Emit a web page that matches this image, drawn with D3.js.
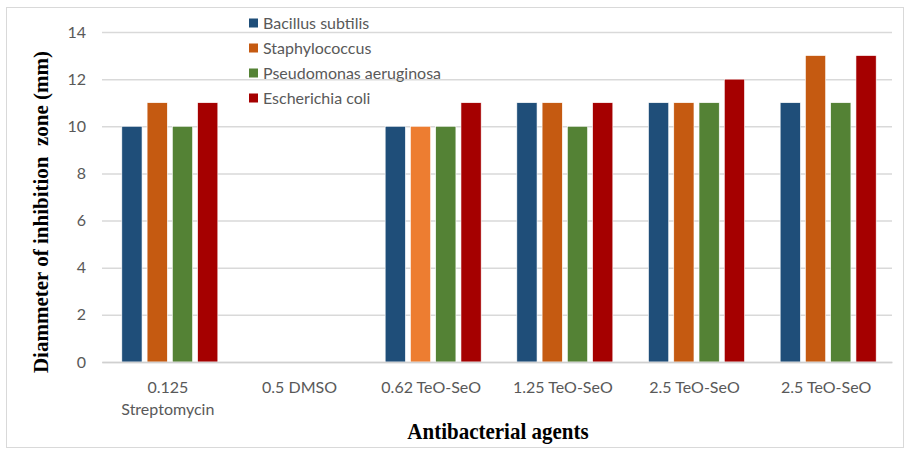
<!DOCTYPE html>
<html><head><meta charset="utf-8">
<script src="https://cdn.jsdelivr.net/npm/d3@7"></script>
<style>body{margin:0;background:#fff}svg{display:block}</style>
</head><body><svg id="c" width="908" height="452"></svg>
<script>
const categories = [["0.125","Streptomycin"],["0.5 DMSO"],["0.62 TeO-SeO"],["1.25 TeO-SeO"],["2.5 TeO-SeO"],["2.5 TeO-SeO"]];
const seriesNames = ["Bacillus subtilis","Staphylococcus","Pseudomonas aeruginosa","Escherichia coli"];
const bacillus = [10,0,10,11,11,11];
const staph = [11,0,10,11,11,13];
const pseudo = [10,0,10,10,11,11];
const ecoli = [11,0,11,11,12,13];
const yTicks = [0,2,4,6,8,10,12,14];
const colors = ["#1F4E79","#C55A11","#548235","#A50000"];
// style override: one bar in the reference is drawn in a lighter orange
const colorOverride = {"1-2":"#ED7D31"};

const values = [bacillus, staph, pseudo, ecoli];
const svg = d3.select("#c");
svg.append("rect").attr("x",6.5).attr("y",7.5).attr("width",897).attr("height",440)
  .attr("fill","#fff").attr("stroke","#d9d9d9");

const L=102,R=892,T=32,B=362;
const x = d3.scaleBand().domain(d3.range(categories.length)).range([L,R]);
const xs = d3.scaleBand().domain(d3.range(4)).range([0,96]).paddingInner(0.2);
const y = d3.scaleLinear().domain([0,14]).range([B,T]);

const gy = svg.append("g").attr("transform",`translate(${L},0)`)
  .call(d3.axisLeft(y).tickValues(yTicks).tickSize(-(R-L)).tickPadding(16));
gy.select(".domain").remove();
gy.selectAll(".tick line").attr("stroke","#d9d9d9").attr("stroke-width",1.5);
gy.selectAll(".tick text").attr("fill","#595959").style("font-family","Lato").style("font-size","16px");

const groups = svg.append("g").selectAll("g").data(categories).join("g")
  .attr("transform",(d,i)=>`translate(${x(i)+x.bandwidth()/2-48+2},0)`);
groups.selectAll("rect").data((d,i)=>values.map((s,k)=>({k,i,v:s[i]}))).join("rect")
  .attr("x",d=>xs(d.k)).attr("width",xs.bandwidth())
  .attr("y",d=>y(d.v)).attr("height",d=>B-y(d.v))
  .attr("fill",d=>colorOverride[d.k+"-"+d.i]||colors[d.k]).attr("stroke",d=>d.v>0?"#fff":"none").attr("stroke-width",0.6)
  .style("display",d=>d.v>0?null:"none");

const gx = svg.append("g").attr("transform",`translate(0,${B})`)
  .call(d3.axisBottom(x).tickSize(0).tickFormat(""));
gx.select(".domain").attr("stroke","#d0d0d0").attr("stroke-width",1.5);
gx.selectAll(".tick").each(function(d){
  const t=d3.select(this).append("text").attr("fill","#595959").attr("text-anchor","middle")
    .style("font-family","Lato").style("font-size","16px");
  categories[d].forEach((line,j)=>t.append("tspan").attr("x",0).attr("y",31+j*22).text(line));
});

svg.append("text").attr("transform","translate(498,439) scale(1,1.12)").attr("text-anchor","middle")
  .style("font-family","Liberation Serif").style("font-weight","bold").style("font-size","21px")
  .text("Antibacterial agents");
svg.append("text").attr("transform","translate(48,212) rotate(-90)").attr("text-anchor","middle")
  .style("font-family","Liberation Serif").style("font-weight","bold").style("font-size","21px")
  .style("white-space","pre")
  .text("Diammeter of inhibition  zone (mm)");

const lg = svg.append("g").selectAll("g").data(seriesNames).join("g")
  .attr("transform",(d,i)=>`translate(249,${23+i*25})`);
lg.append("rect").attr("x",0).attr("y",-4.5).attr("width",9).attr("height",9).attr("fill",(d,i)=>colors[i]);
lg.append("text").attr("x",14).attr("y",0).attr("dy","0.35em").attr("fill","#595959")
  .style("font-family","Lato").style("font-size","16px").text(d=>d);
</script></body></html>
